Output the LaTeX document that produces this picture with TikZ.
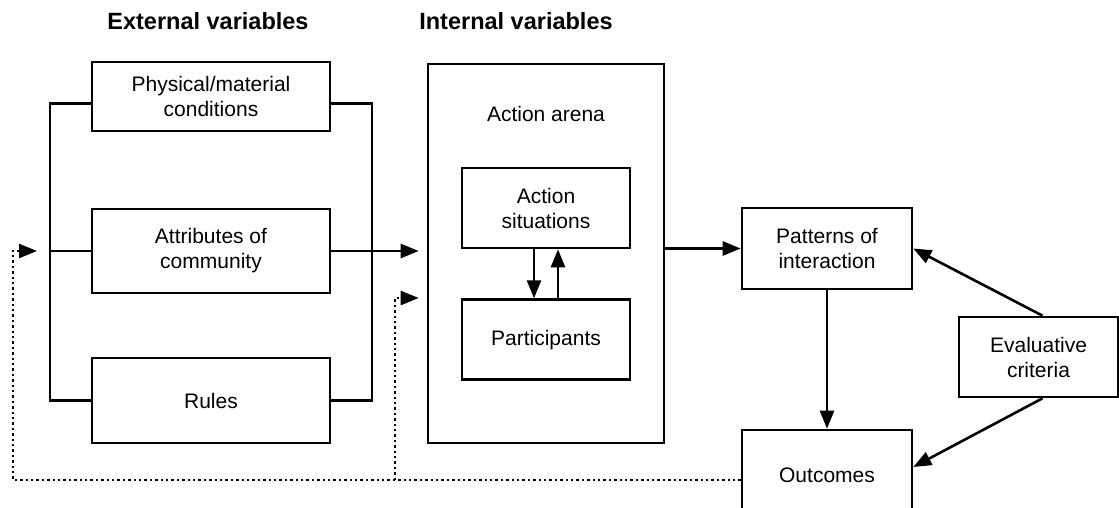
\documentclass[tikz,border=0pt]{standalone}
\usepackage{fontspec}
\setmainfont{Liberation Sans}
\usetikzlibrary{arrows.meta, positioning}

\tikzset{
  box/.style={draw, line width=2.6pt, align=center, inner sep=0pt,
    font=\fontsize{21}{25}\selectfont},
  wire/.style={line width=2.6pt},
  arr/.style={line width=2.6pt, -{Triangle[length=18pt,width=14pt]}},
  dots/.style={line width=2.4pt, dash pattern=on 2.4pt off 3pt},
  heading/.style={font=\fontsize{23.5}{28}\selectfont\bfseries},
}

\begin{document}
\begin{tikzpicture}[x=1pt, y=-1pt]
  \useasboundingbox (0,0) rectangle (1119,508);

  \node[heading] (ext) at (208,21) {External variables};
  \node[heading] (int) at (516,21) {Internal variables};

  \node[box, minimum width=238pt, minimum height=69pt] (phys) at (211,96.5) {Physical/material\\conditions};
  \node[box, minimum width=238pt, minimum height=84pt] (attr) at (211,251) {Attributes of\\community};
  \node[box, minimum width=238pt, minimum height=85pt] (rules) at (211,400.5) {Rules};

  \node[box, minimum width=236pt, minimum height=379pt] (arena) at (546,253.5) {};
  \node[font=\fontsize{21}{25}\selectfont] (arenalbl) at ([yshift=-51pt]arena.north) {Action arena};
  \node[box, minimum width=168pt, minimum height=80pt] (sit) at (546,208) {Action\\situations};
  \node[box, minimum width=168pt, minimum height=80pt, below=49pt of sit] (part) {Participants};

  \node[box, minimum width=170pt, minimum height=81pt] (pat) at (827,248.5) {Patterns of\\interaction};
  \node[box, minimum width=170pt, minimum height=90pt] (out) at (827,475) {Outcomes};
  \node[box, minimum width=159pt, minimum height=80pt] (eval) at (1038.5,357) {Evaluative\\criteria};

  \coordinate (brL) at (50,251);
  \coordinate (brR) at (372,251);
  \coordinate (loopL) at (13,251);
  \coordinate (loopM) at (395,480);

  \draw[wire] ([yshift=-7pt]phys.west) -| (brL |- rules.west) -- (rules.west);
  \draw[wire] (attr.west) -- (brL);
  \draw[wire] ([yshift=-7pt]phys.east) -| (brR |- rules.east) -- (rules.east);
  \draw[wire] (attr.east) -- (brR);
  \draw[arr, shorten >=8pt] (brR) -- (brR -| arena.west);

  \draw[dots, -{Triangle[length=18pt,width=14pt]}, shorten >=13pt] ([yshift=-5pt]out.west) -| (loopL) -- (brL);
  \draw[dots, -{Triangle[length=18pt,width=14pt]}, shorten >=8pt] (loopM) |- ([yshift=-44.5pt]arena.west);

  \draw[arr] ([xshift=-12pt]sit.south) -- ([xshift=-12pt]part.north);
  \draw[arr] ([xshift=12pt]part.north) -- ([xshift=12pt]sit.south);
  \draw[arr] (arena.east |- pat.west) -- (pat.west);
  \draw[arr] (pat.south) -- (out.north);
  \draw[arr] ([xshift=4pt]eval.north) -- (pat.east);
  \draw[arr] ([xshift=4pt]eval.south) -- ([yshift=8pt]out.east);
\end{tikzpicture}
\end{document}
